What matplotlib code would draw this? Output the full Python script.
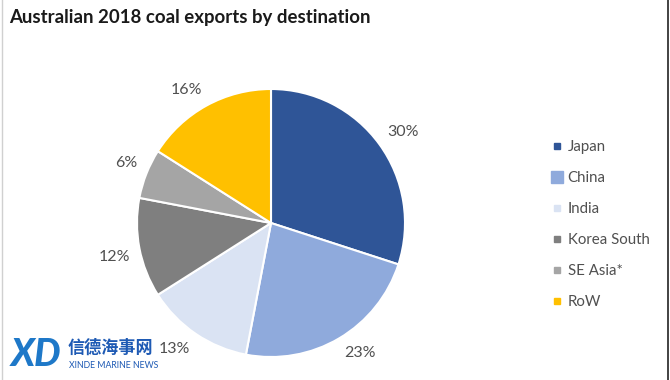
import numpy as np
import matplotlib
matplotlib.use("Agg")
import matplotlib.pyplot as plt
from matplotlib.lines import Line2D

categories = ["Japan", "China", "India", "Korea South", "SE Asia*", "RoW"]
values = [30, 23, 13, 12, 6, 16]
colors = ["#2F5597", "#8FAADC", "#DAE3F3", "#7F7F7F", "#A5A5A5", "#FFC000"]
title = "Australian 2018 coal exports by destination"

W, H = 670, 380
fig = plt.figure(figsize=(W / 100, H / 100), dpi=100)
fig.patch.set_facecolor("white")

FONT = ["Lato", "DejaVu Sans"]
TXT = "#505050"

# pie axes: centre (271, 223) px, radius 134 px
cx, cy, r = 271, 223, 134
ax = fig.add_axes([(cx - r) / W, (H - cy - r) / H, 2 * r / W, 2 * r / H])
wedges, _ = ax.pie(values, colors=colors, startangle=90, counterclock=False,
                   radius=1.0, wedgeprops=dict(edgecolor="white", linewidth=1.5))
ax.set_xlim(-1, 1)
ax.set_ylim(-1, 1)
ax.set_aspect("equal")
ax.axis("off")

# percentage labels outside end
total = sum(values)
for w, v in zip(wedges, values):
    ang = np.deg2rad((w.theta1 + w.theta2) / 2)
    c, s = np.cos(ang), np.sin(ang)
    rr = 1.07
    ha = "left" if c > 0.15 else ("right" if c < -0.15 else "center")
    va = "bottom" if s > 0.15 else ("top" if s < -0.15 else "center")
    ax.text(rr * c, rr * s, f"{round(100 * v / total)}%", ha=ha, va=va,
            fontsize=11.5, color=TXT, family=FONT, clip_on=False)

# title
fig.text(9 / W, 1 - 18 / H, title, ha="left", va="center", fontsize=13.4,
         fontweight="bold", color="#1a1a1a", family=FONT)

# legend
leg_handles = [Line2D([0], [0], marker="s", linestyle="none", markersize=5 if i != 1 else 9,
                      markerfacecolor=col, markeredgecolor=col) for i, col in enumerate(colors)]
fig.legend(leg_handles, categories, loc="upper left", bbox_to_anchor=(545 / W, 1 - 134 / H),
           frameon=False, prop=dict(family=FONT, size=10.8), labelcolor=TXT,
           handlelength=0.8, handletextpad=0.3, labelspacing=1.13, borderaxespad=0)

# frame lines
fig.add_artist(Line2D([1.5 / W, 1.5 / W], [0, 1], color="#d0d0d0", lw=1))
fig.add_artist(Line2D([668 / W, 668 / W], [0, 1], color="#222222", lw=1.2))

# watermark
fig.text(11 / W, 1 - 354 / H, "XD", ha="left", va="center", fontsize=27, fontweight="black",
         color="#1E78C8", family=FONT, style="italic")
fig.text(68 / W, 1 - 348 / H, "信德海事网", ha="left", va="center", fontsize=12.3, fontweight="bold",
         color="#1E5AB4", family=["Noto Sans CJK SC", "DejaVu Sans"])
fig.text(69 / W, 1 - 365 / H, "XINDE MARINE NEWS", ha="left", va="center", fontsize=6.3,
         color="#1E5AB4", family=FONT)

fig.savefig("out.png", dpi=100, facecolor="white")
